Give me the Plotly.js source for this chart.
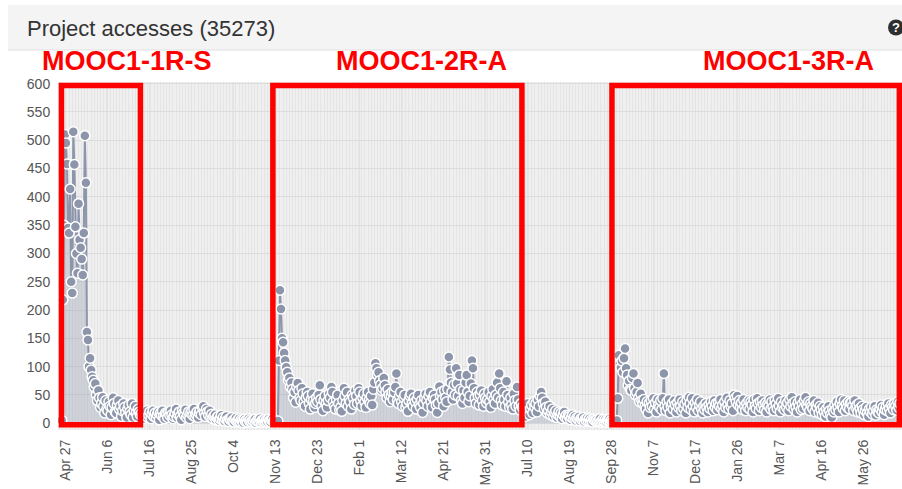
<!DOCTYPE html>
<html>
<head>
<meta charset="utf-8">
<script src="https://cdn.plot.ly/plotly-3.0.1.min.js"></script>
<style>
  html, body { margin: 0; padding: 0; background: #ffffff; }
  #chart { width: 902px; height: 489px; }
</style>
</head>
<body>
<div id="chart"></div>
<script>
// ---- Data (daily project accesses) ----
const chartTitle = "Project accesses (35273)";
const boxLabels = ["MOOC1-1R-S", "MOOC1-2R-A", "MOOC1-3R-A"];

// MOOC1-1R-S launch period
const seg1Start = "2015-04-23";
const seg1Values = [
  5,218,350,510,495,458,345,
  336,414,250,230,515,457,347,
  300,265,388,324,310,290,262,
  336,508,425,161,147,100,115,
  94,82,76,64,70,50,40,
  58,45,28,35,46,30,18,
  40,25,22,38,30,15,28,
  45,35,20,18,32,40,25,
  30,12,22,35,28,18,10,
  25,32,20,15,35,10,22,
  30,18,12,25,20,15
];

// Between first and second run
const seg2Start = "2015-07-08";
const seg2Values = [
  18,12,8,20,15,22,10,
  14,20,8,16,22,12,18,
  10,15,20,6,18,14,22,
  12,8,18,16,10,20,14,
  22,15,8,12,18,25,10,
  16,20,12,6,22,18,14,
  24,10,15,20,8,18,22,
  14,25,12,16,20,10,18,
  22,15,28,30,18,12,25,
  20,14,22,10,16,8,12,
  15,6,10,12,5,8,14,
  6,10,4,8,12,5,3,
  8,6,10,4,2,7,9,
  3,5,8,2,6,4,1,
  7,3,5,2,8,4,6,
  2,5,3,7,1,4,6,
  3,8,2,5,4,6,2,
  5,3,7,4,2,6,8,
  3,5
];

// MOOC1-2R-A
const seg3Start = "2015-11-13";
const seg3Values = [
  3,2,4,111,235,202,150,
  143,124,111,99,90,76,80,
  64,72,60,45,55,37,64,
  71,58,45,40,62,52,38,
  30,45,55,48,35,25,42,
  52,40,28,35,45,38,50,
  67,42,30,22,40,48,35,
  28,40,52,45,64,55,38,
  30,25,42,50,35,23,28,
  21,40,62,48,35,55,30,
  42,38,25,50,45,33,58,
  48,35,62,55,40,30,45,
  52,38,28,45,55,40,35,
  48,32,60,72,106,97,85,
  90,75,68,58,62,80,67,
  55,45,60,50,38,48,55,
  42,55,64,88,40,35,48,
  55,38,30,45,50,28,35,
  21,40,48,52,35,30,45,
  38,25,42,50,33,28,40,
  19,35,45,52,40,30,48,
  55,38,28,45,50,42,32,
  19,35,65,48,55,42,30,
  58,45,38,60,117,95,72,
  55,42,68,50,97,70,48,
  85,60,40,35,58,45,72,
  85,55,38,48,70,111,97,
  62,45,35,55,48,32,50,
  58,40,30,52,45,36,42,
  55,38,28,48,60,42,35,
  50,72,45,88,62,40,32,
  55,42,30,74,50,38,28,
  45,32,25,52,40,30,64,
  42,30,23,35,28
];

// Between second and third run
const seg4Start = "2016-07-06";
const seg4Values = [
  30,18,12,28,35,22,15,
  25,32,18,37,28,35,20,
  42,30,48,55,45,35,25,
  38,28,18,22,30,15,20,
  25,12,18,22,10,15,20,
  12,18,8,15,20,10,14,
  8,14,12,6,10,15,8,
  12,5,9,7,11,4,8,
  6,10,3,7,5,9,4,
  8,3,6,2,7,5,4,
  6,3,5,8,2,4,7,
  3,6,2,5,4,7,3,
  5
];

// MOOC1-3R-A
const seg5Start = "2016-09-29";
const seg5Values = [
  3,2,
  4,2,5,44,120,105,98,
  110,90,115,132,97,85,67,
  75,60,58,80,88,62,50,
  55,71,45,38,52,40,35,
  42,30,25,38,18,35,28,
  40,30,44,25,36,20,42,
  32,28,40,24,44,88,30,
  22,38,28,42,18,30,35,
  25,40,32,20,36,28,42,
  30,22,38,26,34,18,40,
  28,46,35,24,44,30,20,
  36,28,42,22,32,38,25,
  18,30,24,35,28,20,32,
  26,38,30,22,40,28,35,
  24,36,30,42,26,32,20,
  38,28,45,32,25,40,30,
  35,22,50,44,38,48,32,
  40,28,36,24,42,30,22,
  35,28,40,25,38,32,20,
  42,30,26,44,35,22,38,
  28,40,32,24,36,20,34,
  30,42,25,38,28,22,40,
  34,26,44,30,20,38,28,
  32,24,40,28,36,22,42,
  30,46,35,25,38,28,20,
  36,30,42,24,34,26,40,
  46,32,28,38,22,35,30,
  26,40,20,32,28,36,18,
  30,24,15,28,20,12,25,
  18,30,22,15,10,26,20,
  32,24,38,28,20,35,42,
  30,26,40,22,34,28,38,
  25,36,37,30,22,40,28,
  32,20,35,26,18,30,24,
  15,22,28,18,12,25,20,
  28,16,22,30,14,24,20,
  18,26,32,20,28,15,24,
  30,22,35,26,18,32,28,
  24,35,30,23,38,28,35
];

// ---- build x dates ----
function dailyDates(start, n) {
  const p = start.split("-").map(Number);
  const out = [];
  for (let i = 0; i < n; i++) {
    const d = new Date(Date.UTC(p[0], p[1] - 1, p[2] + i));
    out.push(d.toISOString().slice(0, 10));
  }
  return out;
}
const segs = [
  [seg1Start, seg1Values], [seg2Start, seg2Values], [seg3Start, seg3Values],
  [seg4Start, seg4Values], [seg5Start, seg5Values]
];
let xs = [], ys = [];
segs.forEach(s => { xs = xs.concat(dailyDates(s[0], s[1].length)); ys = ys.concat(s[1]); });

const trace = {
  type: "scatter",
  mode: "lines+markers",
  x: xs,
  y: ys,
  fill: "tozeroy",
  fillcolor: "rgba(140,150,172,0.32)",
  line: { color: "#8c95aa", width: 2 },
  marker: { color: "#8c95aa", size: 10, line: { color: "#ffffff", width: 1.5 } },
  hoverinfo: "x+y"
};

// plot area: x 58..902, y 82..430
const L = 58, R = 902, T = 82, B = 430;
const px = v => (v - L) / (R - L);
const py = v => (B - v) / (B - T);

const red = "#ff0000";
const boxes = [
  ["2015-04-22 17:00", "2015-07-07 00:00"],
  ["2015-11-10 06:00", "2016-07-04 16:00"],
  ["2016-09-28 12:00", "2017-06-29 12:00"]
];
const shapes = [
  { type: "rect", xref: "paper", yref: "paper", x0: px(8), x1: 1.02, y0: py(50), y1: py(5),
    fillcolor: "#f4f4f4", line: { width: 0 }, layer: "below" },
  { type: "line", xref: "paper", yref: "paper", x0: px(8), x1: 1.02, y0: py(50), y1: py(50),
    line: { color: "#e0e0e0", width: 1 } },
  { type: "circle", xref: "paper", yref: "paper", x0: px(888), x1: px(904), y0: py(35.5), y1: py(19.5),
    fillcolor: "#2f2f2f", line: { width: 0 } }
];
boxes.forEach(b => shapes.push({
  type: "rect", xref: "x", yref: "y", x0: b[0], x1: b[1], y0: -2.7, y1: 597,
  line: { color: red, width: 5.5 }, fillcolor: "rgba(0,0,0,0)"
}));

const labelX = [126.5, 421.5, 788.5];
const annotations = boxLabels.map((t, i) => ({
  text: "<b>" + t + "</b>", xref: "paper", yref: "paper", x: px(labelX[i]), y: py(61),
  xanchor: "center", yanchor: "middle", showarrow: false,
  font: { family: "Liberation Sans, Arial, sans-serif", size: 27, color: red }
}));
annotations.push({
  text: "<b>?</b>", xref: "paper", yref: "paper", x: px(896), y: py(27.5),
  xanchor: "center", yanchor: "middle", showarrow: false,
  font: { family: "Liberation Sans, Arial, sans-serif", size: 13, color: "#ffffff" }
});

const DAY = 86400000;
const layout = {
  width: 902, height: 489,
  margin: { l: L, r: 902 - R, t: T, b: 489 - B, pad: 0 },
  paper_bgcolor: "#ffffff",
  plot_bgcolor: "#efefef",
  showlegend: false,
  title: {
    text: chartTitle, xref: "container", yref: "container",
    x: 27 / 902, xanchor: "left", y: 1 - 28 / 489, yanchor: "middle",
    font: { family: "Liberation Sans, Arial, sans-serif", size: 22, color: "#333333" }
  },
  xaxis: {
    type: "date",
    range: ["2015-04-19 10:00", "2017-07-02 00:00"],
    tick0: "2015-04-27", dtick: 40 * DAY, tickformat: "%b %-d",
    tickangle: -90,
    ticks: "outside", ticklen: 3, tickcolor: "rgba(0,0,0,0)",
    tickfont: { family: "Liberation Sans, Arial, sans-serif", size: 14, color: "#555555" },
    showgrid: true, gridcolor: "#e2e2e2", gridwidth: 1,
    minor: { dtick: 3 * DAY, tick0: "2015-04-27", showgrid: true, gridcolor: "#e5e5e5", gridwidth: 1 },
    zeroline: false, showline: false, fixedrange: true
  },
  yaxis: {
    range: [-12, 603],
    tick0: 0, dtick: 50,
    ticks: "outside", ticklen: 4, tickcolor: "rgba(0,0,0,0)",
    tickfont: { family: "Liberation Sans, Arial, sans-serif", size: 14, color: "#555555" },
    showgrid: true, gridcolor: "#dcdcdc", gridwidth: 1,
    zeroline: false, showline: false, fixedrange: true
  },
  shapes: shapes,
  annotations: annotations
};

Plotly.newPlot("chart", [trace], layout, { displayModeBar: false, staticPlot: true });
</script>
</body>
</html>
